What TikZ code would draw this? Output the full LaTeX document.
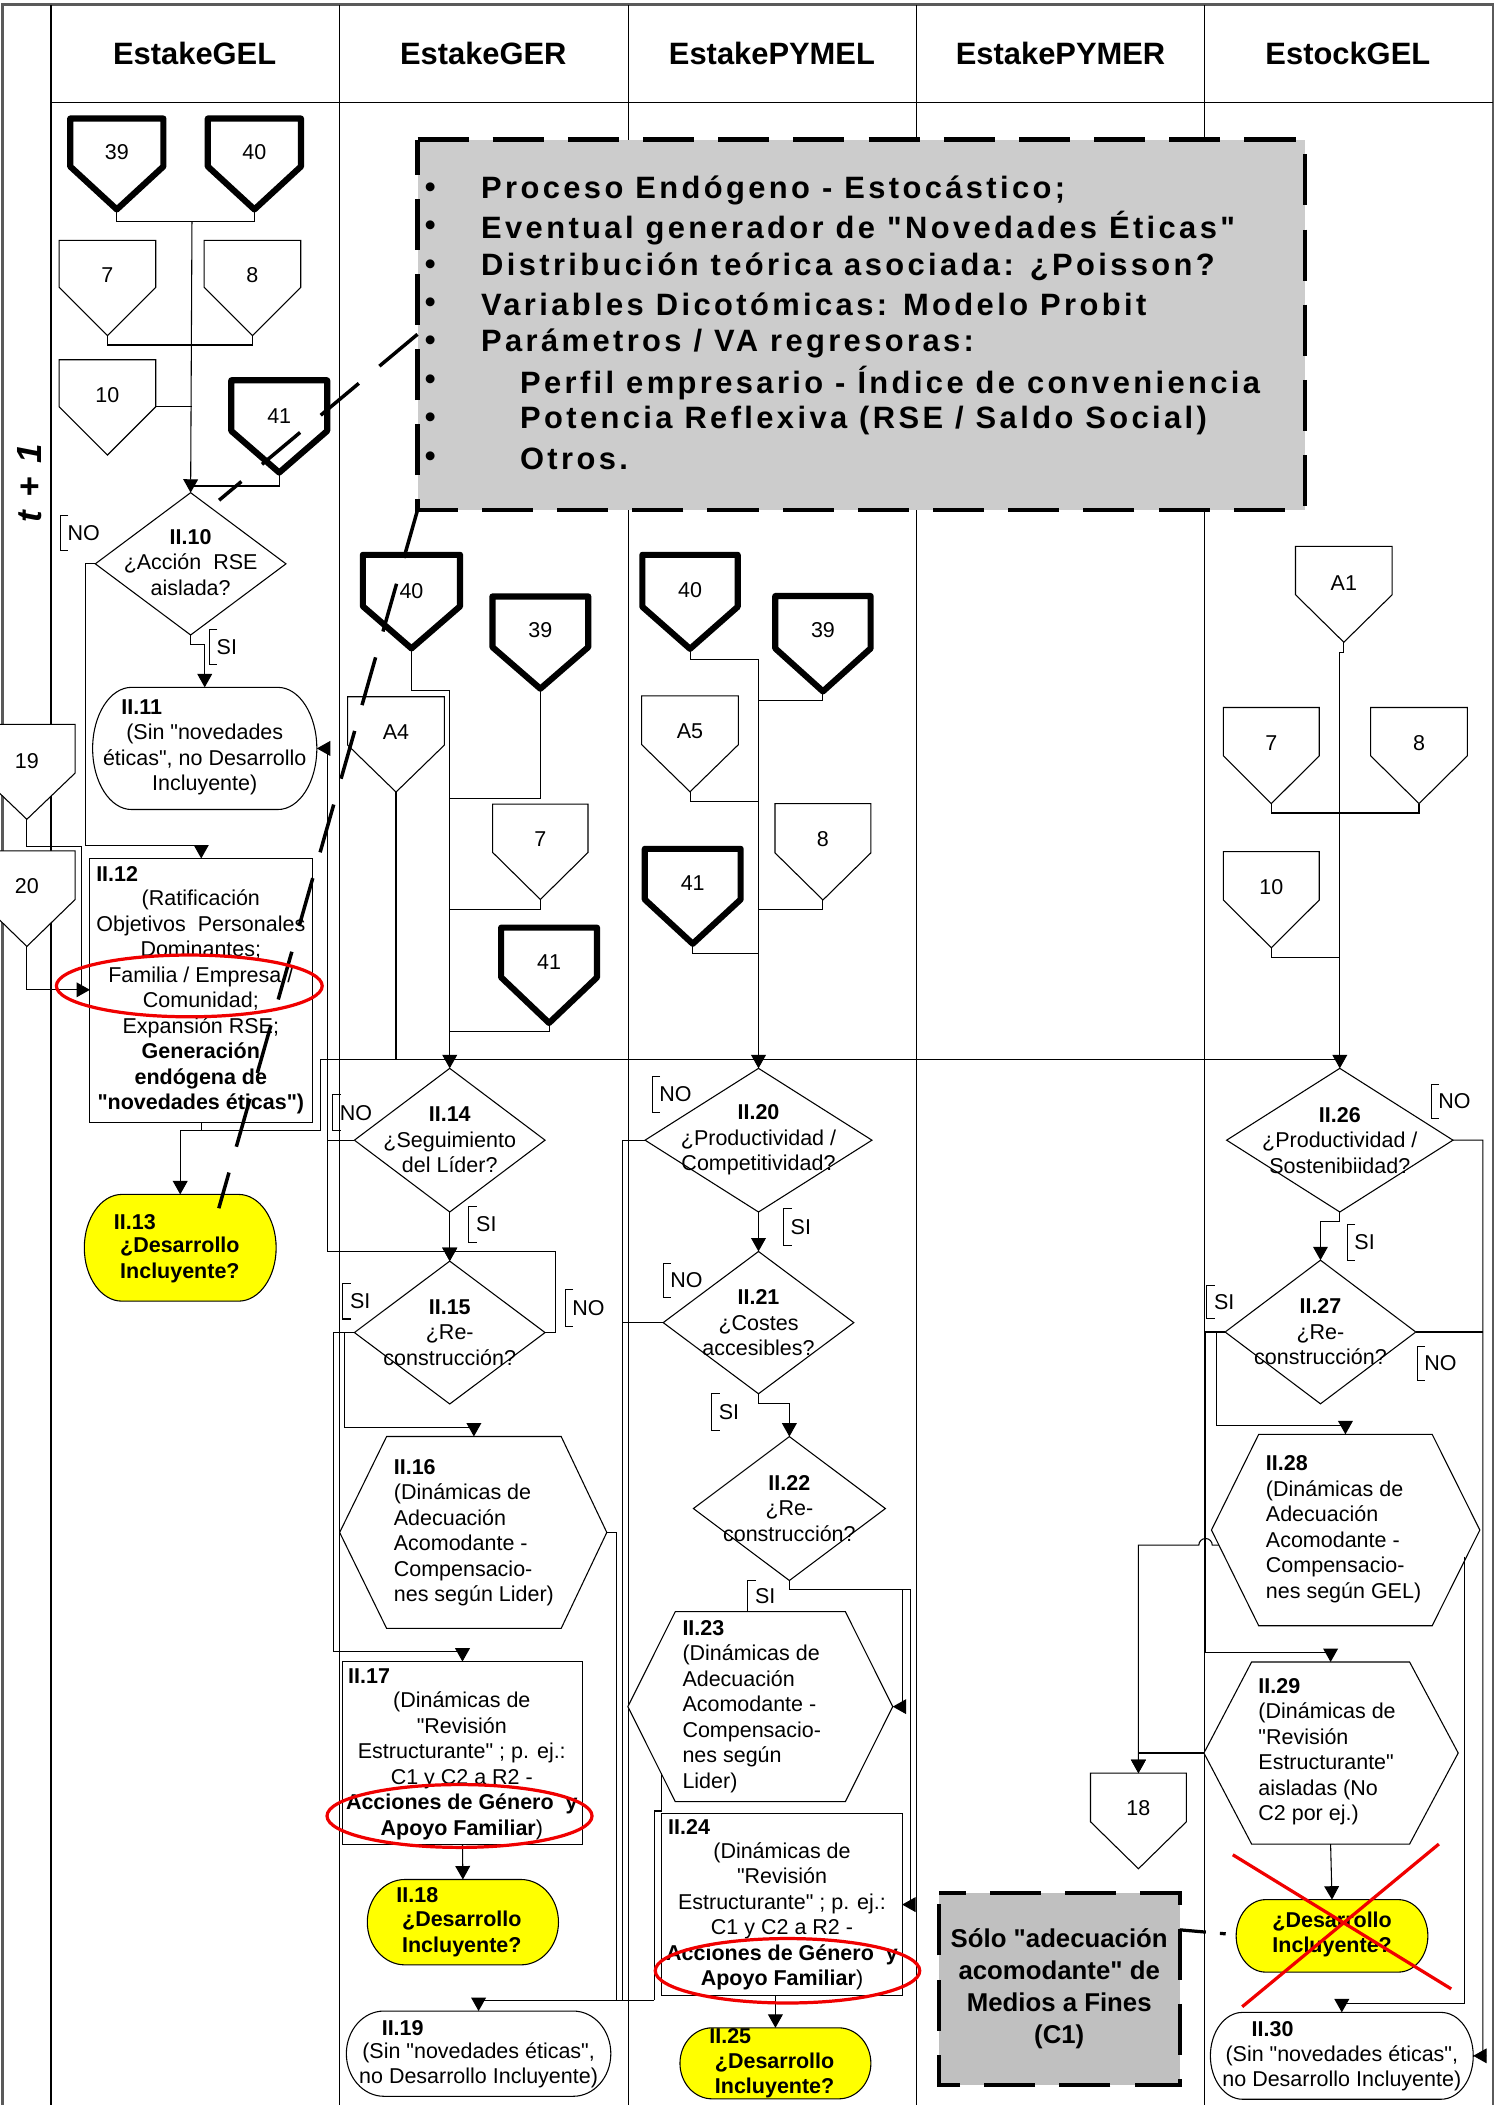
\documentclass[tikz,border=0pt]{standalone}
\usepackage{fontspec}
\newfontfamily\lsans{Liberation Sans}
\newfontfamily\boxfont[LetterSpace=11]{Liberation Sans}
\usetikzlibrary{shapes.geometric,arrows.meta}
\definecolor{boxgray}{RGB}{204,204,204}
\definecolor{boxgrayb}{RGB}{192,192,192}
\definecolor{ylw}{RGB}{255,255,0}
\definecolor{rd}{RGB}{240,0,0}
\definecolor{framegray}{RGB}{90,90,90}
\tikzset{
  ln/.style={line width=0.4pt,draw=black},
  arr/.style={ln,-{Triangle[length=5pt,width=5.5pt]}},
  shp/.style={line width=0.4pt,draw=black,fill=white},
  thickpent/.style={line width=2.3pt,line join=round,draw=black,fill=white},
  thinpent/.style={shp},
  dia/.style={shape=diamond,draw=black,line width=0.4pt,fill=white,inner sep=0pt,outer sep=0pt},
  boxn/.style={shape=rectangle,draw=black,line width=0.4pt,fill=white,inner sep=0pt,outer sep=0pt},
  txt/.style={font=\lsans\fontsize{8}{9.5}\selectfont,inner sep=0pt,align=center},
  txtl/.style={txt,align=left,anchor=west},
  numtxt/.style={font=\lsans\fontsize{8}{9.5}\selectfont,inner sep=0pt},
  hdr/.style={font=\lsans\fontsize{11.5}{13}\selectfont\bfseries,inner sep=0pt},
  bul/.style={font=\boxfont\fontsize{11.5}{12}\selectfont\bfseries,inner sep=0pt,anchor=west},
  dconn/.style={line width=1.3pt,dash pattern=on 18.5pt off 10pt},
  boxdash/.style={line width=1.6pt,dash pattern=on 19pt off 9pt},
  redl/.style={draw=rd,line width=1.2pt},
}
% pentagon (off-page connector): [style]{name}{cx}{top}{hw}{shoulder}{tip}{texty}{text}
\newcommand\mypent[9][thinpent]{%
  \draw[#1] ({#3-#5},#4) -- ({#3+#5},#4) -- ({#3+#5},#6) -- (#3,#7) -- ({#3-#5},#6) -- cycle;
  \coordinate (#2-s) at (#3,#7);
  \coordinate (#2-n) at (#3,#4);
  \coordinate (#2-e) at ({#3+#5},#6);
  \node[numtxt] (#2) at (#3,#8) {#9};
}
% hexagon: {name}{xl}{xi1}{xi2}{xr}{top}{bottom}
\newcommand\myhexa[7]{%
  \draw[shp] (#2,{(#6+#7)/2}) -- (#3,#6) -- (#4,#6) -- (#5,{(#6+#7)/2}) -- (#4,#7) -- (#3,#7) -- cycle;
  \coordinate (#1-n) at ({(#3+#4)/2},#6);
  \coordinate (#1-s) at ({(#3+#4)/2},#7);
  \coordinate (#1-w) at (#2,{(#6+#7)/2});
  \coordinate (#1-e) at (#5,{(#6+#7)/2});
}
% terminator: {name}{x1}{y1}{x2}{y2}{rx}{fill}
\newcommand\myterm[7]{%
  \pgfmathsetmacro\termrx{#6/2}%
  \pgfmathsetmacro\termry{(#5-#3)/4}%
  \draw[ln,fill=#7] ({#2+#6},#3) -- ({#4-#6},#3) arc[start angle=90,end angle=-90,x radius=\termrx pt,y radius=\termry pt] -- ({#2+#6},#5) arc[start angle=270,end angle=90,x radius=\termrx pt,y radius=\termry pt] -- cycle;
  \coordinate (#1-n) at ({(#2+#4)/2},#3);
  \coordinate (#1-e) at (#4,{(#3+#5)/2});
  \coordinate (#1-w) at (#2,{(#3+#5)/2});
}
% SI / NO label with bracket: {name}{x}{y1}{y2}{text}
\newcommand\sino[5]{%
  \draw[ln] ({#2+6},#3) -- (#2,#3) -- (#2,#4) -- ({#2+6},#4);
  \node[txt,anchor=west] (#1) at ({#2+5},{(#3+#4)/2}) {#5};
}
\begin{document}
\lsans
\begin{tikzpicture}[x=0.5pt,y=-0.5pt]
\useasboundingbox (0,0) rectangle (1123,1568);
\fill[white] (0,0) rectangle (1123,1568);
% ---------- frame ----------
\draw[line width=1pt,draw=framegray] (2,1568) -- (2,3.5) -- (1112,3.5) -- (1112,1568);
\draw[ln] (38,4) -- (38,1568);
\draw[ln] (38,76.5) -- (1112,76.5);
\foreach \x in {253,468,683,897} {\draw[ln] (\x,4) -- (\x,1568);}
\node[hdr] (hGEL) at (145,40) {EstakeGEL};
\node[hdr] (hGER) at (360,40) {EstakeGER};
\node[hdr] (hPYMEL) at (575,40) {EstakePYMEL};
\node[hdr] (hPYMER) at (790,40) {EstakePYMER};
\node[hdr] (hSGEL) at (1004,40) {EstockGEL};
\node[rotate=90,font=\lsans\fontsize{13}{15}\selectfont\bfseries\itshape,inner sep=0pt] (tlabel) at (22,360) {t\hspace{5pt}+\hspace{5pt}1};
% ---------- gray note box ----------
\node[fill=boxgray,inner sep=0pt,outer sep=0pt,minimum width=330.5pt,minimum height=138pt,anchor=north west] (gbox) at (311,104) {};
\draw[boxdash] (gbox.north west) -- (gbox.north east) -- (gbox.south east) -- (gbox.south west) -- cycle;
\node[bul] (bu1) at (316,142) {•};
\node[bul] (bu2) at (316,170) {•};
\node[bul] (bu3) at (316,199) {•};
\node[bul] (bu4) at (316,227) {•};
\node[bul] (bu5) at (316,256) {•};
\node[bul] (bu6) at (316,285) {•};
\node[bul] (bu7) at (316,313) {•};
\node[bul] (bu8) at (316,342) {•};
\node[bul] (g1) at (358,142) {Proceso Endógeno - Estocástico;};
\node[bul] (g2) at (358,170) {Eventual generador de "Novedades Éticas"};
\node[bul] (g3) at (358,199) {Distribución teórica asociada: ¿Poisson?};
\node[bul] (g4) at (358,227) {Variables Dicotómicas: Modelo Probit};
\node[bul] (g5) at (358,256) {Parámetros / VA regresoras:};
\node[bul] (g6) at (387,285) {Perfil empresario - Índice de conveniencia};
\node[bul] (g7) at (387,313) {Potencia Reflexiva (RSE / Saldo Social)};
\node[bul] (g8) at (387,342) {Otros.};
% ---------- pentagons ----------
\mypent[thickpent]{p39}{87}{88.3}{34.7}{124}{156}{113}{39}
\mypent[thickpent]{p40}{189.5}{88.3}{34.7}{124}{156}{113}{40}
\mypent{p7}{80}{179}{36}{214}{250}{205}{7}
\mypent{p8}{188}{179}{36}{214}{250}{205}{8}
\mypent{p10}{80}{268}{36}{303}{339}{294}{10}
\mypent[thickpent]{p41}{208}{283.3}{35.7}{321}{352}{310}{41}
\mypent[thickpent]{p40g}{306.5}{413.3}{36.2}{451.6}{483}{440}{40}
\mypent[thickpent]{p39g}{402.5}{444.3}{35.7}{482}{513}{469.6}{39}
\mypent{pA4}{295}{519}{36}{555}{590}{545}{A4}
\mypent{p7g}{402.5}{599}{35.5}{635}{670}{625}{7}
\mypent[thickpent]{p41g}{409}{691}{35.7}{728}{762}{717}{41}
\mypent[thickpent]{p40y}{514}{413.3}{35.5}{452}{483.3}{439.7}{40}
\mypent[thickpent]{p39y}{613}{444}{35.5}{483}{515}{469.5}{39}
\mypent{pA5}{514}{518.4}{36}{554.7}{589.8}{545}{A5}
\mypent{p8y}{613}{598.6}{35.7}{635.3}{670.4}{625}{8}
\mypent[thickpent]{p41y}{516}{632.3}{35.7}{670}{703}{658}{41}
\mypent{pA1}{1001}{407}{36}{443}{478.4}{434}{A1}
\mypent{p7e}{947}{527}{35.7}{563}{598.6}{553.7}{7}
\mypent{p8e}{1057}{527}{36}{563}{598.6}{553.7}{8}
\mypent{p10e}{947}{634.4}{35.7}{670.4}{706}{661}{10}
\mypent{p19}{20}{539.6}{36}{575.8}{610.3}{567}{19}
\mypent{p20}{20}{633.8}{36}{670}{705}{660}{20}
\mypent{p18}{848}{1320.8}{35.7}{1357}{1392}{1347}{18}
% ---------- diamonds ----------
\node[dia,minimum width=71pt,minimum height=53pt] (d10) at (142,420) {};
\node[dia,minimum width=71pt,minimum height=53.5pt] (d14) at (335,849.3) {};
\node[dia,minimum width=71pt,minimum height=53.2pt] (d15) at (335,992.6) {};
\node[dia,minimum width=84.5pt,minimum height=53.5pt] (d20) at (565,849.3) {};
\node[dia,minimum width=71pt,minimum height=53pt] (d21) at (565,985.2) {};
\node[dia,minimum width=71.5pt,minimum height=53.6pt] (d22) at (588,1123.7) {};
\node[dia,minimum width=84.3pt,minimum height=53.5pt] (d26) at (998,849.3) {};
\node[dia,minimum width=71pt,minimum height=53.5pt] (d27) at (983.6,992.2) {};
\node[txt] (d10t) at (142,419) {\textbf{II.10}\\¿Acción\ \ RSE\\aislada?};
\node[txt] (d14t) at (d14) {\textbf{II.14}\\¿Seguimiento\\del Líder?};
\node[txt] (d15t) at (d15) {\textbf{II.15}\\¿Re-\\construcción?};
\node[txt] (d20t) at (d20) {\textbf{II.20}\\¿Productividad /\\Competitividad?};
\node[txt] (d21t) at (d21) {\textbf{II.21}\\¿Costes\\accesibles?};
\node[txt] (d22t) at (d22) {\textbf{II.22}\\¿Re-\\construcción?};
\node[txt] (d26t) at (d26) {\textbf{II.26}\\¿Productividad /\\Sostenibiidad?};
\node[txt] (d27t) at (d27) {\textbf{II.27}\\¿Re-\\construcción?};
% ---------- hexagons ----------
\myhexa{h16}{253}{288}{418}{452}{1070}{1213}
\myhexa{h23}{467.7}{503}{629.7}{665}{1200.5}{1342}
\myhexa{h28}{902.4}{937.6}{1066.8}{1102.3}{1068.4}{1211}
\myhexa{h29}{896.8}{932.3}{1050}{1086.2}{1238}{1373.6}
\node[txtl] (h16t) at (293,1141.6) {\textbf{II.16}\\(Dinámicas de\\Adecuación\\Acomodante -\\Compensacio-\\nes según Lider)};
\node[txtl] (h23t) at (508,1271) {\textbf{II.23}\\(Dinámicas de\\Adecuación\\Acomodante -\\Compensacio-\\nes según\\Lider)};
\node[txtl] (h28t) at (942.6,1139.2) {\textbf{II.28}\\(Dinámicas de\\Adecuación\\Acomodante -\\Compensacio-\\nes según GEL)};
\node[txtl] (h29t) at (937,1305) {\textbf{II.29}\\(Dinámicas de\\"Revisión\\Estructurante"\\aisladas (No\\C2 por ej.)};
% ---------- boxes ----------
\node[boxn,minimum width=82.9pt,minimum height=98.25pt] (b12) at (149.9,737.75) {};
\node[boxn,minimum width=89.5pt,minimum height=68.15pt] (b17) at (344.5,1305.85) {};
\node[boxn,minimum width=89.5pt,minimum height=67.7pt] (b24) at (582.5,1418.7) {};
\node[txtl] (b12id) at (71.3,651) {\textbf{II.12}};
\node[txt] (b12t) at (149.6,746.3) {(Ratificación\\Objetivos\ \ Personales\\Dominantes;\\Familia / Empresa /\\Comunidad;\\Expansión RSE;\\\textbf{Generación}\\\textbf{endógena de}\\\textbf{"novedades éticas")}};
\node[txtl] (b17id) at (259,1248.4) {\textbf{II.17}};
\node[txt] (b17t) at (344,1315.3) {(Dinámicas de\\"Revisión\\Estructurante" ; p. ej.:\\C1 y C2 a R2 -\\\textbf{Acciones de Género\ \ y}\\\textbf{Apoyo Familiar})};
\node[txtl] (b24id) at (497.3,1361) {\textbf{II.24}};
\node[txt] (b24t) at (582.5,1427.5) {(Dinámicas de\\"Revisión\\Estructurante" ; p. ej.:\\C1 y C2 a R2 -\\\textbf{Acciones de Género\ \ y}\\\textbf{Apoyo Familiar})};
% ---------- terminators ----------
\myterm{t11}{69}{512}{236}{603}{29}{white}
\myterm{t13}{62.8}{889.7}{205.7}{969.2}{28}{ylw}
\myterm{t18}{273.6}{1400}{416}{1463.6}{28}{ylw}
\myterm{t19}{258}{1498}{455}{1561.5}{28}{white}
\myterm{t25}{506.5}{1510.5}{648.7}{1563.4}{24}{ylw}
\myterm{t30}{901.6}{1499}{1097.4}{1563.7}{24}{white}
\myterm{tx}{920.8}{1415}{1063.6}{1469}{22}{ylw}
\node[txtl] (t11id) at (90,527) {\textbf{II.11}};
\node[txt] (t11t) at (152.5,566) {(Sin "novedades\\éticas", no Desarrollo\\Incluyente)};
\node[txtl] (t13id) at (84.5,910.3) {\textbf{II.13}};
\node[txt,font=\lsans\fontsize{8}{9.5}\selectfont\bfseries] (t13t) at (134,938.5) {¿Desarrollo\\Incluyente?};
\node[txtl] (t18id) at (294.9,1412) {\textbf{II.18}};
\node[txt,font=\lsans\fontsize{8}{9.5}\selectfont\bfseries] (t18t) at (344,1440.7) {¿Desarrollo\\Incluyente?};
\node[txtl] (t19id) at (284,1510.5) {\textbf{II.19}};
\node[txt] (t19t) at (356.5,1538.5) {(Sin "novedades éticas",\\no Desarrollo Incluyente)};
\node[txtl] (t25id) at (528,1517) {\textbf{II.25}};
\node[txt,font=\lsans\fontsize{8}{9.5}\selectfont\bfseries] (t25t) at (577,1546) {¿Desarrollo\\Incluyente?};
\node[txtl] (t30id) at (932,1511.5) {\textbf{II.30}};
\node[txt] (t30t) at (999.5,1540.7) {(Sin "novedades éticas",\\no Desarrollo Incluyente)};
\node[txt,font=\lsans\fontsize{8}{9.5}\selectfont\bfseries] (txt) at (992.3,1441) {¿Desarrollo\\Incluyente?};
% ---------- lower gray box ----------
\node[fill=boxgrayb,inner sep=0pt,outer sep=0pt,minimum width=89.65pt,minimum height=71.5pt,anchor=north west] (sbox) at (699.5,1410) {};
\draw[boxdash,dash phase=9pt] (sbox.north west) -- (sbox.north east) -- (sbox.south east) -- (sbox.south west) -- cycle;
\node[font=\lsans\fontsize{9.6}{11.9}\selectfont\bfseries,align=center,inner sep=0pt] (stxt) at (789,1481.3) {Sólo "adecuación\\acomodante" de\\Medios a Fines\\(C1)};
% ---------- connectors ----------
% EstakeGEL
\coordinate (j1) at (143,165);
\draw[ln] (p39-s) |- (j1) -| (p40-s);
\draw[arr] (j1) -- (d10.north);
\coordinate (j78) at (143,257);
\draw[ln] (p7-s) |- (j78) -| (p8-s);
\draw[ln] (p10-e) -- (p10-e -| j1);
\coordinate (j41) at (143,362);
\draw[ln] (p41-s) |- (j41);
\coordinate (c10no) at (64,630);
\draw[arr] (d10.west) -| (c10no) -| (b12.north);
\draw[arr] (d10.south) -- ++(0,7) -| (t11-n);
\coordinate (c19) at (60.4,737.3);
\draw[ln] (p19-s) -- ++(0,20) -| (c19);
\coordinate (b12in) at (67,737.3);
\draw[arr] (p20-s) |- (b12in);
\coordinate (j12) at (149.9,842);
\coordinate (j12r) at (239,842);
\coordinate (hl) at (239,789);
\draw[ln] (b12.south) -- (j12);
\draw[arr] (j12r) -| (t13-n);
\draw[ln] (j12r) -- (hl) -- (hl -| d26.north);
% EstakeGER
\coordinate (g40j) at (335,514);
\draw[ln] (p40g-s) |- (g40j);
\draw[arr] (g40j) -- (d14.north);
\coordinate (g39j) at (335,594.5);
\draw[ln] (p39g-s) |- (g39j);
\coordinate (g7j) at (335,677.6);
\draw[ln] (p7g-s) |- (g7j);
\coordinate (g41j) at (335,768.6);
\draw[ln] (p41g-s) |- (g41j);
\draw[ln] (pA4-s) -- (pA4-s |- hl);
\coordinate (c14a) at (244,557.5);
\coordinate (c14b) at (244,932);
\draw[arr] (d14.west) -| (c14a) -- (t11-e);
\draw[arr] (d14.west) -| (c14b) -| (d15.north);
\draw[arr] (d14.south) -- (d15.north);
\coordinate (c15no) at (413.6,932);
\draw[ln] (d15.east) -| (c15no) -- (c14b -| d15.north);
\coordinate (c15a) at (256.9,1063);
\coordinate (c15b) at (248.6,1230.5);
\draw[arr] (d15.west) -| (c15a) -| (h16-n);
\draw[arr] (d15.west) -| (c15b) -| (b17.north);
\coordinate (c16) at (459,1490);
\draw[ln] (h16-e) -| (c16);
\draw[arr] (b17.south) -- (t18-n);
\coordinate (c23b) at (487.3,1490);
\draw[arr] (c23b) -| (t19-n);
% EstakePYMEL
\coordinate (y40j) at (565,491);
\draw[ln] (p40y-s) |- (y40j);
\draw[arr] (y40j) -- (d20.north);
\coordinate (y39j) at (565,521.5);
\draw[ln] (p39y-s) |- (y39j);
\coordinate (yA5j) at (565,596.7);
\draw[ln] (pA5-s) |- (yA5j);
\coordinate (y8j) at (565,677.7);
\draw[ln] (p8y-s) |- (y8j);
\coordinate (y41j) at (565,710);
\draw[ln] (p41y-s) |- (y41j);
\coordinate (c20) at (463.5,1490);
\draw[ln] (d20.west) -| (c20);
\draw[arr] (d20.south) -- (d21.north);
\draw[ln] (d21.west) -- (d21.west -| c20);
\draw[arr] (d21.south) -- ++(0,7.5) -| (d22.north);
\coordinate (c22a) at (672,1271.25);
\coordinate (c22b) at (678,1418.7);
\draw[arr] (d22.south) -- ++(0,7) -| (c22a) -- (h23-e);
\draw[arr] (d22.south) -- ++(0,7) -| (c22b) -- (b24.east);
\coordinate (h23o) at (492.6,1321);
\coordinate (c23a) at (492.6,1349);
\coordinate (c23c) at (487.3,1349);
\draw[ln] (h23o) -- (c23a) -- (c23c) -- (c23b);
\draw[arr] (t25-n |- b24.south) -- (t25-n);
% EstockGEL
\coordinate (eA1) at (1001,485.7);
\draw[arr] (pA1-s) -- (eA1) -| (d26.north);
\draw[ln] (p7e-s) -- ++(0,7) -| (p8e-s);
\coordinate (e10j) at (998,713.2);
\draw[ln] (p10e-s) |- (e10j);
\coordinate (c26) at (1104.6,1531.35);
\draw[arr] (d26.east) -| (c26) -- (t30-e);
\draw[arr] (d26.south) -- ++(0,7.3) -| (d27.north);
\draw[ln] (d27.east) -- (d27.east -| c26);
\coordinate (c27a) at (906,1062);
\coordinate (c27b) at (898,1231);
\draw[arr] (d27.west) -| (c27a) -| (h28-n);
\draw[arr] (d27.west) -| (c27b) -| (h29-n);
\coordinate (h28o) at (1091,1159.5);
\coordinate (c28) at (1091,1492.5);
\draw[arr] (h28o) -- (c28) -| (t30-n);
\coordinate (h28w) at (908,1151);
\coordinate (c18) at (848,1151);
\draw[arr] (h28w) -- (903,1151) arc[start angle=0,end angle=180,radius=2.5pt] -- (c18) -- (p18-n);
\draw[arr] (h29-w) -| (p18-n);
\draw[arr] (h29-s) -- (tx-n);
% ---------- SI / NO labels ----------
\sino{l10no}{45}{384}{410}{NO}
\sino{l10si}{156}{469}{495}{SI}
\sino{l14no}{247.7}{815.6}{842}{NO}
\sino{l14si}{349.3}{898.6}{925.5}{SI}
\sino{l15si}{255.4}{956}{982.5}{SI}
\sino{l15no}{421}{960.5}{987.8}{NO}
\sino{l20no}{485.8}{801.6}{829}{NO}
\sino{l20si}{583.6}{900}{927.5}{SI}
\sino{l21no}{494}{941.2}{966.5}{NO}
\sino{l21si}{530}{1038.3}{1065.6}{SI}
\sino{l22si}{557}{1177.6}{1200.5}{SI}
\sino{l26no}{1066}{808}{833}{NO}
\sino{l26si}{1003.5}{912}{938.6}{SI}
\sino{l27si}{899}{957.6}{982}{SI}
\sino{l27no}{1055.6}{1002.7}{1028}{NO}
% ---------- dashed annotation connectors ----------
\coordinate (gl) at (311,249);
\coordinate (e10) at (163.2,372.6);
\draw[dconn] (gl) -- (e10);
\coordinate (e13) at (163,900);
\draw[dconn] (gbox.south west) -- (e13);
\coordinate (se) at (878.8,1437.5);
\coordinate (sx) at (913,1440.5);
\draw[line width=1.2pt,dash pattern=on 9.75pt off 5.25pt] (se) -- (sx);
% ---------- red marks ----------
\draw[redl] (141,734.4) ellipse [x radius=49.5pt,y radius=11.5pt];
\draw[redl] (342.3,1352.7) ellipse [x radius=49.35pt,y radius=11.7pt];
\draw[redl] (586.6,1468) ellipse [x radius=49.25pt,y radius=12pt];
\draw[redl] (918.3,1381.6) -- (1081,1481.5);
\draw[redl] (1071.8,1373.6) -- (925.3,1494.8);
\end{tikzpicture}
\end{document}
